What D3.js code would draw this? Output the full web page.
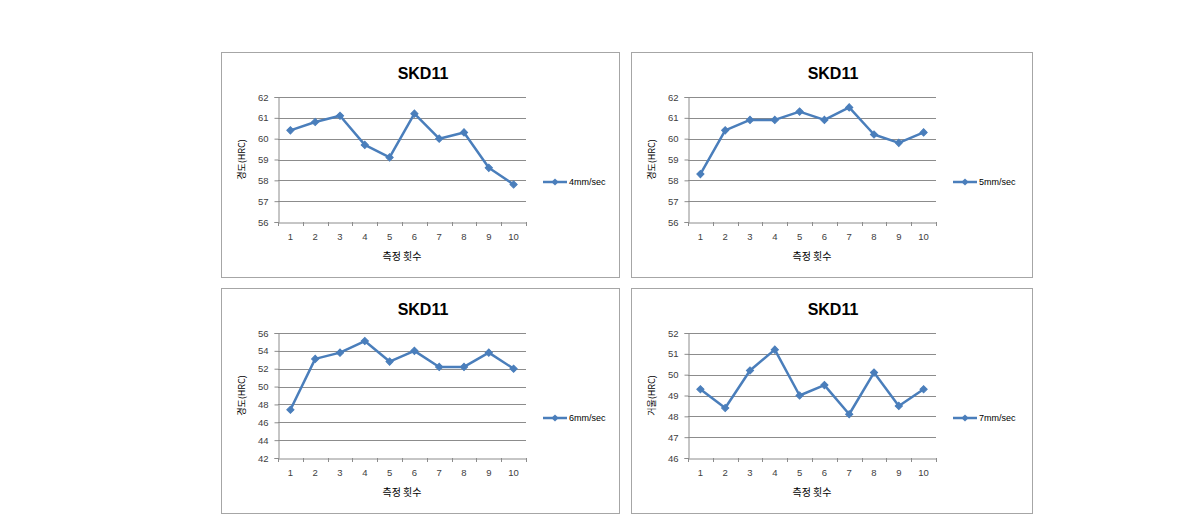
<!DOCTYPE html>
<html><head><meta charset="utf-8">
<script src="https://cdn.jsdelivr.net/npm/d3@7"></script>
<style>body{margin:0;background:#fff;} svg{display:block;}</style>
</head><body>
<svg id="c" width="1190" height="530"></svg>
<script>
const categories = ["1","2","3","4","5","6","7","8","9","10"];
const titles = ["SKD11","SKD11","SKD11","SKD11"];
const seriesNames = ["4mm/sec","5mm/sec","6mm/sec","7mm/sec"];
const yLabels = ["경도(HRC)","경도(HRC)","경도(HRC)","거울(HRC)"];
const xLabel = "측정 횟수";
const values4 = [60.4,60.8,61.1,59.7,59.1,61.2,60.0,60.3,58.6,57.8];
const values5 = [58.3,60.4,60.9,60.9,61.3,60.9,61.5,60.2,59.8,60.3];
const values6 = [47.4,53.1,53.8,55.1,52.8,54.0,52.2,52.2,53.8,52.0];
const values7 = [49.3,48.4,50.2,51.2,49.0,49.5,48.1,50.1,48.5,49.3];
const yDomains = [[56,62],[56,62],[42,56],[46,52]];
const yTickSteps = [1,1,2,1];

const allValues = [values4,values5,values6,values7];
const panels = [
  {x:221,y:52,w:398,h:225},
  {x:631,y:52,w:401,h:225},
  {x:221,y:288,w:398,h:225},
  {x:631,y:288,w:401,h:225}
];
const svg = d3.select("#c");
const font = "'Liberation Sans', Arial, sans-serif";
const kfont = "'Noto Sans CJK KR', sans-serif";
const lineColor = "#4a7ebb";

panels.forEach((p,i)=>{
  const g = svg.append("g").attr("transform",`translate(${p.x},${p.y})`);
  g.append("rect").attr("x",0.5).attr("y",0.5).attr("width",p.w).attr("height",p.h)
    .attr("fill","#fff").attr("stroke","#a6a6a6").attr("stroke-width",1);
  const left = 57, right = 305, top = 45, bottom = 170;
  const x = d3.scaleBand().domain(categories).range([left,right]);
  const [d0,d1] = yDomains[i];
  const y = d3.scaleLinear().domain([d0,d1]).range([bottom,top]);
  const ticks = d3.range(d0, d1+0.001, yTickSteps[i]);
  g.append("g").selectAll("line").data(ticks.slice(1)).join("line")
    .attr("x1",left).attr("x2",right)
    .attr("y1",d=>Math.round(y(d))+0.5).attr("y2",d=>Math.round(y(d))+0.5)
    .attr("stroke","#8c8c8c").attr("stroke-width",1);
  const ya = g.append("g").attr("transform",`translate(${left+0.5},0)`)
    .call(d3.axisLeft(y).tickValues(ticks).tickSize(4).tickPadding(6).tickFormat(d3.format("d")));
  ya.select(".domain").attr("stroke","#8c8c8c");
  ya.selectAll(".tick line").attr("stroke","#8c8c8c");
  ya.selectAll("text").attr("font-family",font).attr("font-size",9.5).attr("fill","#404040");
  const xa = g.append("g").attr("transform",`translate(0,${bottom+0.5})`)
    .call(d3.axisBottom(x).tickSize(0).tickPadding(11));
  xa.select(".domain").attr("stroke","#8c8c8c");
  xa.selectAll("text").attr("font-family",font).attr("font-size",9.5).attr("fill","#404040");
  g.append("g").selectAll("line").data(categories.concat(["end"])).join("line")
    .attr("x1",(d,k)=>Math.round(left + k*x.step())+0.5).attr("x2",(d,k)=>Math.round(left + k*x.step())+0.5)
    .attr("y1",bottom).attr("y2",bottom+4).attr("stroke","#8c8c8c");
  g.append("text").attr("x",(left+right)/2+21).attr("y",27).attr("text-anchor","middle")
    .attr("font-family",font).attr("font-weight","bold").attr("font-size",16).attr("fill","#000")
    .text(titles[i]);
  g.append("text").attr("x",(left+right)/2).attr("y",208).attr("text-anchor","middle")
    .attr("font-family",kfont).attr("font-size",10).attr("fill","#000").text(xLabel);
  g.append("text").attr("transform",`translate(24,${(top+bottom)/2}) rotate(-90)`)
    .attr("text-anchor","middle").attr("font-family",kfont).attr("font-size",9).attr("fill","#000")
    .text(yLabels[i]);
  const vals = allValues[i];
  const line = d3.line().x((d,k)=>x(categories[k])+x.bandwidth()/2).y(d=>y(d));
  g.append("path").datum(vals).attr("d",line).attr("fill","none")
    .attr("stroke",lineColor).attr("stroke-width",2.5).attr("stroke-linejoin","round");
  const sym = d3.symbol().type(d3.symbolSquare).size(26);
  g.append("g").selectAll("path").data(vals).join("path")
    .attr("transform",(d,k)=>`translate(${x(categories[k])+x.bandwidth()/2},${y(d)}) rotate(45)`)
    .attr("d",sym).attr("fill",lineColor).attr("stroke",lineColor);
  const lx = 322, ly = 130;
  g.append("line").attr("x1",lx).attr("x2",lx+24).attr("y1",ly).attr("y2",ly)
    .attr("stroke",lineColor).attr("stroke-width",2.5);
  g.append("path").attr("transform",`translate(${lx+12},${ly}) rotate(45)`).attr("d",sym).attr("fill",lineColor);
  g.append("text").attr("x",lx+26).attr("y",ly+3).attr("font-family",font).attr("font-size",9)
    .attr("fill","#000").text(seriesNames[i]);
});
</script>
</body></html>
